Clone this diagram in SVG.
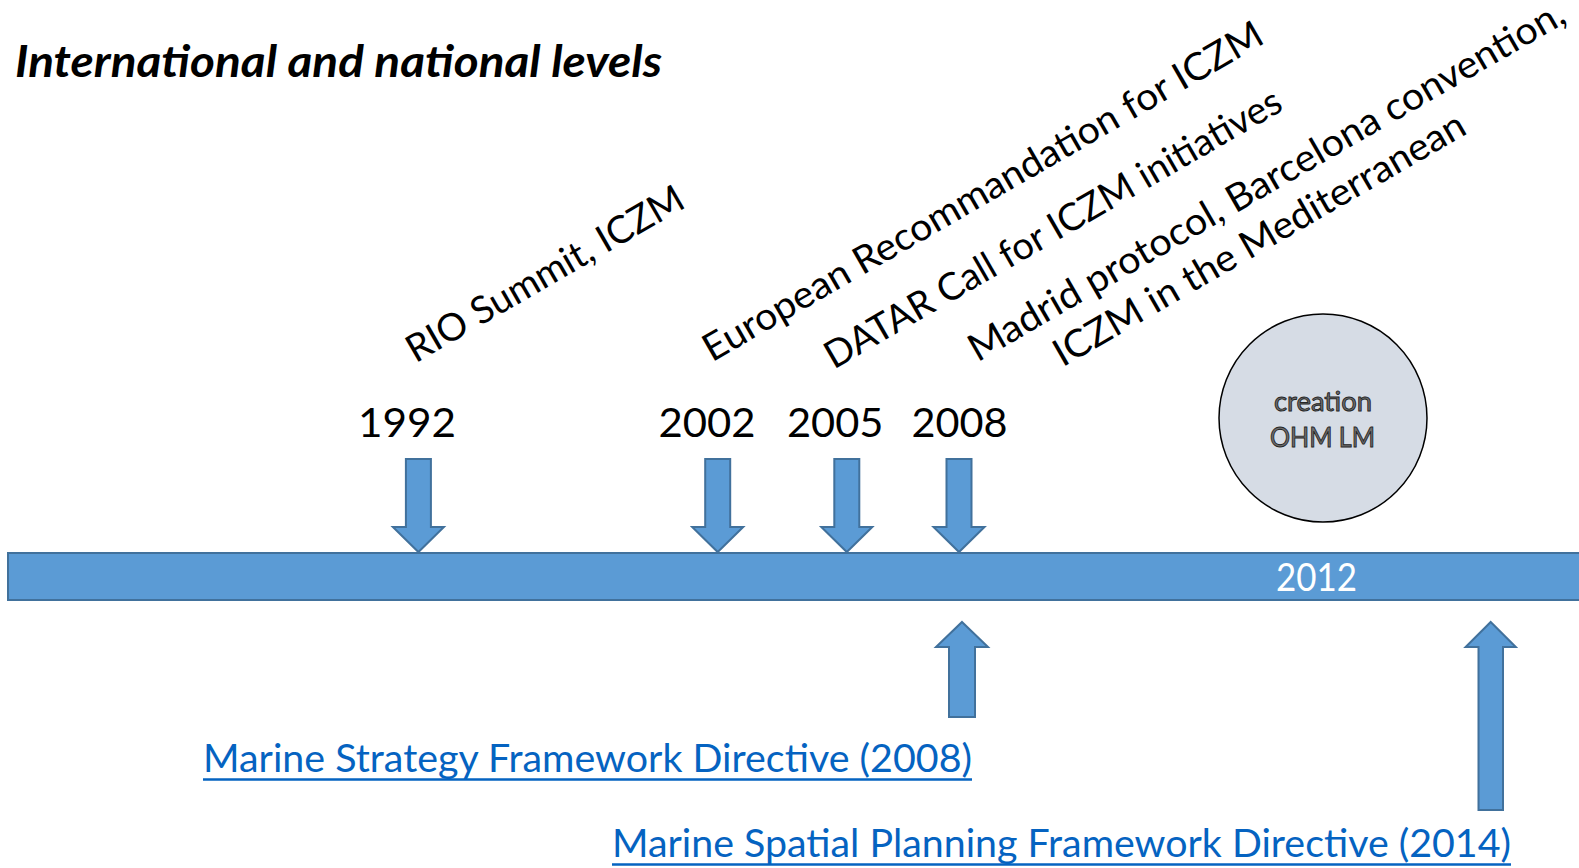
<svg xmlns="http://www.w3.org/2000/svg" xmlns:xlink="http://www.w3.org/1999/xlink" width="1579" height="868" viewBox="0 0 1579 868">
<style>
.t{font-family:Lato,"Open Sans","Liberation Sans",sans-serif;fill:#000}
.rot{font-size:38px}
.yr{font-size:41.5px}
.arrow{fill:#5B9BD5;stroke:#41719C;stroke-width:2;stroke-linejoin:miter}
.link{font-family:Lato,"Open Sans","Liberation Sans",sans-serif;font-size:38px;fill:#0563C1}
.ul{stroke:#0563C1;stroke-width:2.5}
</style>
<defs>
<path id="down" d="M-12.5,459 H12.5 V527 H25.5 L0,552 L-25.5,527 H-12.5 Z"/>
</defs>
<rect width="1579" height="868" fill="#fff"/>
<g id="title">
<text class="t" x="15" y="77" font-size="44" font-weight="700" font-style="italic" textLength="647" lengthAdjust="spacingAndGlyphs">International and national levels</text>
</g>
<g id="timeline">
<rect class="arrow" x="8" y="553" width="1580" height="47"/>
<text class="t" x="1276" y="591" font-size="38" style="fill:#fff" textLength="81" lengthAdjust="spacingAndGlyphs">2012</text>
</g>
<g id="connectors">
<use xlink:href="#down" class="arrow" x="418.4"/>
<use xlink:href="#down" class="arrow" x="717.7"/>
<use xlink:href="#down" class="arrow" x="846.8"/>
<use xlink:href="#down" class="arrow" x="959"/>
<path class="arrow" d="M962,622 L988,647 H975 V717 H949 V647 H936 Z"/>
<path class="arrow" d="M1490.7,622 L1515.8,647 H1503 V810 H1478.5 V647 H1465.6 Z"/>
</g>
<g id="e1992">
<text class="t yr" x="358" y="437" textLength="98" lengthAdjust="spacingAndGlyphs">1992</text>
<text class="t rot" transform="translate(415.4,363.5) rotate(-30)" textLength="314" lengthAdjust="spacingAndGlyphs">RIO Summit, ICZM</text>
</g>
<g id="e2002">
<text class="t yr" x="658.5" y="437" textLength="97" lengthAdjust="spacingAndGlyphs">2002</text>
<text class="t rot" transform="translate(712,362.4) rotate(-30)" textLength="640" lengthAdjust="spacingAndGlyphs">European Recommandation for ICZM</text>
</g>
<g id="e2005">
<text class="t yr" x="787" y="437" textLength="96.5" lengthAdjust="spacingAndGlyphs">2005</text>
<text class="t rot" transform="translate(833.7,369.8) rotate(-30)" textLength="521" lengthAdjust="spacingAndGlyphs">DATAR Call for ICZM initiatives</text>
</g>
<g id="e2008">
<text class="t yr" x="911.5" y="437" textLength="96" lengthAdjust="spacingAndGlyphs">2008</text>
<text class="t rot" transform="translate(977.4,362.5) rotate(-30)" textLength="682" lengthAdjust="spacingAndGlyphs">Madrid protocol, Barcelona convention,</text>
<text class="t rot" transform="translate(1062.5,367.5) rotate(-30)" textLength="469" lengthAdjust="spacingAndGlyphs">ICZM in the Mediterranean</text>
</g>
<g id="ohm">
<circle cx="1323" cy="418" r="104" fill="#D6DCE5" stroke="#000" stroke-width="1.5"/>
<text x="1323" y="411" text-anchor="middle" font-family="Lato,'Open Sans',sans-serif" font-size="26" fill="#6E6E6E" stroke="#262626" stroke-width="0.9" textLength="98" lengthAdjust="spacingAndGlyphs">creation</text>
<text x="1322.5" y="446.5" text-anchor="middle" font-family="Lato,'Open Sans',sans-serif" font-size="26" fill="#6E6E6E" stroke="#262626" stroke-width="0.9" textLength="105" lengthAdjust="spacingAndGlyphs">OHM LM</text>
</g>
<g id="msfd">
<text class="link" x="203" y="772" textLength="769" lengthAdjust="spacingAndGlyphs">Marine Strategy Framework Directive (2008)</text>
<line class="ul" x1="203" y1="779.5" x2="972" y2="779.5"/>
</g>
<g id="mspd">
<text class="link" x="612" y="857" textLength="899" lengthAdjust="spacingAndGlyphs">Marine Spatial Planning Framework Directive (2014)</text>
<line class="ul" x1="612" y1="864.5" x2="1511" y2="864.5"/>
</g>
</svg>
